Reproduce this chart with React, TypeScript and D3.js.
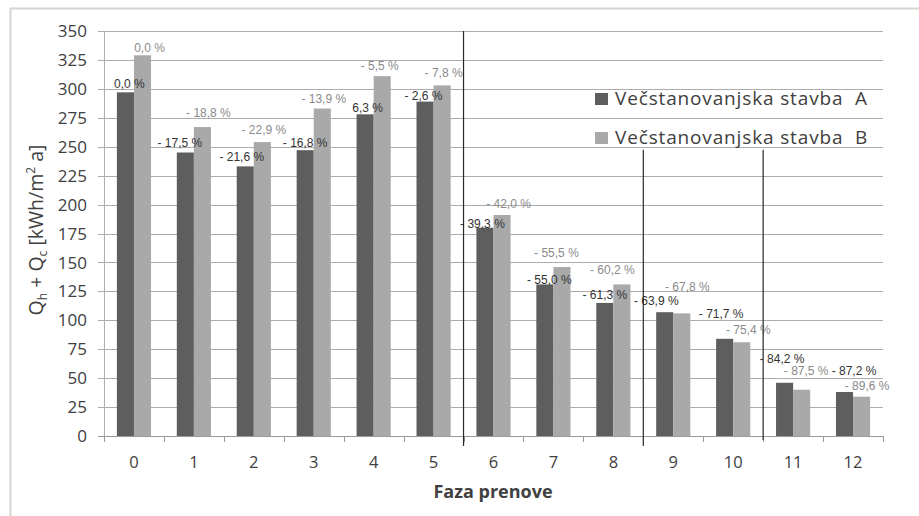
import React from 'react';
import * as d3 from 'd3';

// Faza prenove 0..12
const categories = ['0', '1', '2', '3', '4', '5', '6', '7', '8', '9', '10', '11', '12'];
const seriesNames = ['Večstanovanjska stavba  A', 'Večstanovanjska stavba  B'];

// Q_h + Q_c [kWh/m2 a]
const valuesA = [297, 245, 233, 247, 278, 289, 180, 131, 115, 107, 84, 46, 38];
const valuesB = [329, 267, 254, 283, 311, 303, 191, 146, 131, 106, 81, 40, 34];

const labelsA = ['0,0 %', '- 17,5 %', '- 21,6 %', '- 16,8 %', '6,3 %', '- 2,6 %', '- 39,3 %', '- 55,0 %', '- 61,3 %', '- 63,9 %', '- 71,7 %', '- 84,2 %', '- 87,2 %'];
const labelsB = ['0,0 %', '- 18,8 %', '- 22,9 %', '- 13,9 %', '- 5,5 %', '- 7,8 %', '- 42,0 %', '- 55,5 %', '- 60,2 %', '- 67,8 %', '- 75,4 %', '- 87,5 %', '- 89,6 %'];

const yTicks = [0, 25, 50, 75, 100, 125, 150, 175, 200, 225, 250, 275, 300, 325, 350];

// phase separators (after category index)
const separators = [5, 8, 10];

// label nudges in px (x from bar centre, y above bar top)
const nudgeAx = [4, -5.5, -3.5, 0, 2.5, -1.5, -2.5, 4.5, 0, -8.5, -3.5, -2.5, 9.5];
const nudgeAy = [4.7, 5.7, 5.7, 3, 2, 2, 0, 0, 4, 7, 21, 20, 17];
const nudgeBx = [7, 6, 1.5, 1.5, -2.5, 1.5, 6.5, -5.5, -9.5, 5.5, 6.5, 4.5, 5.5];
const nudgeBy = [3, 10, 8, 6, 6, 8, 7, 10, 10, 22, 8, 15, 7];

const W = 919;
const H = 516;
const colorA = '#5e5e5e';
const colorB = '#a9a9aa';
const textColor = '#404040';
const font = '"Open Sans", sans-serif';
const labelFont = '"Liberation Sans", Arial, sans-serif';

export default function App() {
  const left = 104;
  const right = 883;
  const top = 31;
  const bottom = 436;

  const x = d3
    .scaleBand<string>()
    .domain(categories)
    .range([left, right])
    .paddingInner(0.43)
    .paddingOuter(0.215);
  const inner = d3.scaleBand<string>().domain(['A', 'B']).range([0, x.bandwidth()]);
  const y = d3.scaleLinear().domain([0, 350]).range([bottom, top]);

  const step = x.step();
  const boundary = (k: number) => left + k * step;

  const series = [
    { key: 'A', values: valuesA, labels: labelsA, color: colorA, label: '#333', nx: nudgeAx, ny: nudgeAy },
    { key: 'B', values: valuesB, labels: labelsB, color: colorB, label: '#8a8a8a', nx: nudgeBx, ny: nudgeBy },
  ];

  return (
    <div style={{ position: 'absolute', left: 0, top: 0 }}>
      <svg width={W} height={H} style={{ display: 'block', background: '#fff' }}>
        {/* frame */}
        <line x1={10} x2={W} y1={8.5} y2={8.5} stroke="#d8d4d0" strokeWidth={2} />
        <line x1={10.5} x2={10.5} y1={8} y2={H} stroke="#d8d4d0" strokeWidth={2} />

        {/* grid */}
        {yTicks.map((t) => (
          <g key={t}>
            <line
              x1={left - 6}
              x2={right}
              y1={Math.round(y(t)) + 0.5}
              y2={Math.round(y(t)) + 0.5}
              stroke={t === 0 ? '#9a9a9a' : '#acacac'}
              strokeWidth={1}
            />
            <text
              x={87}
              y={y(t)}
              dy="0.36em"
              textAnchor="end"
              fontFamily={font}
              fontSize={17}
              fill={textColor}
            >
              {t}
            </text>
          </g>
        ))}
        <line x1={left + 0.5} x2={left + 0.5} y1={top} y2={bottom} stroke="#b0b0b0" />

        {/* x ticks */}
        {d3.range(categories.length + 1).map((k) => (
          <line
            key={k}
            x1={Math.round(boundary(k)) + 0.5}
            x2={Math.round(boundary(k)) + 0.5}
            y1={bottom}
            y2={bottom + 6}
            stroke="#9a9a9a"
          />
        ))}
        {categories.map((c) => (
          <text
            key={c}
            x={(x(c) as number) + x.bandwidth() / 2}
            y={468}
            textAnchor="middle"
            fontFamily={font}
            fontSize={16.5}
            fill={textColor}
          >
            {c}
          </text>
        ))}

        {/* bars */}
        {series.map((s) => (
          <g key={s.key} fill={s.color}>
            {s.values.map((v, i) => (
              <rect
                key={i}
                x={(x(categories[i]) as number) + (inner(s.key) as number)}
                y={y(v)}
                width={inner.bandwidth()}
                height={y(0) - y(v)}
              />
            ))}
          </g>
        ))}

        {/* value labels */}
        {series.map((s) => (
          <g key={s.key + 'l'} fontFamily={labelFont} fontSize={12} fill={s.label} textAnchor="middle">
            {s.values.map((v, i) => (
              <text
                key={i}
                x={(x(categories[i]) as number) + (inner(s.key) as number) + inner.bandwidth() / 2 + s.nx[i]}
                y={y(v) - s.ny[i]}
              >
                {s.labels[i]}
              </text>
            ))}
          </g>
        ))}

        {/* phase separators */}
        {separators.map((k, i) => (
          <line
            key={k}
            x1={boundary(k + 1)}
            x2={boundary(k + 1)}
            y1={i === 0 ? y(350) : y(250) + 3}
            y2={i === 2 ? bottom + 4 : bottom + 10}
            stroke="#2a2a2a"
            strokeWidth={1.2}
          />
        ))}

        {/* legend */}
        {seriesNames.map((n, i) => (
          <g key={n} transform={`translate(595, ${93 + i * 39})`}>
            <rect width={13} height={12} fill={i === 0 ? colorA : colorB} />
            <text
              x={20}
              y={12}
              fontFamily={font}
              fontSize={19}
              letterSpacing={0.85}
              fill={textColor}
              style={{ whiteSpace: 'pre' }}
            >
              {n}
            </text>
          </g>
        ))}

        {/* axis titles */}
        <text
          x={493}
          y={498}
          textAnchor="middle"
          fontFamily={font}
          fontWeight="bold"
          fontSize={18}
          fill={textColor}
        >
          Faza prenove
        </text>
        <text
          transform="translate(43, 230) rotate(-90)"
          textAnchor="middle"
          fontFamily={font}
          fontSize={19.5}
          fill={textColor}
        >
          <tspan>Q</tspan>
          <tspan fontSize={12} dy={4}>h</tspan>
          <tspan dy={-4}> + Q</tspan>
          <tspan fontSize={12} dy={4}>c</tspan>
          <tspan dy={-4}> [kWh/m</tspan>
          <tspan fontSize={12} dy={-8}>2</tspan>
          <tspan dy={8}> a]</tspan>
        </text>
      </svg>
    </div>
  );
}
